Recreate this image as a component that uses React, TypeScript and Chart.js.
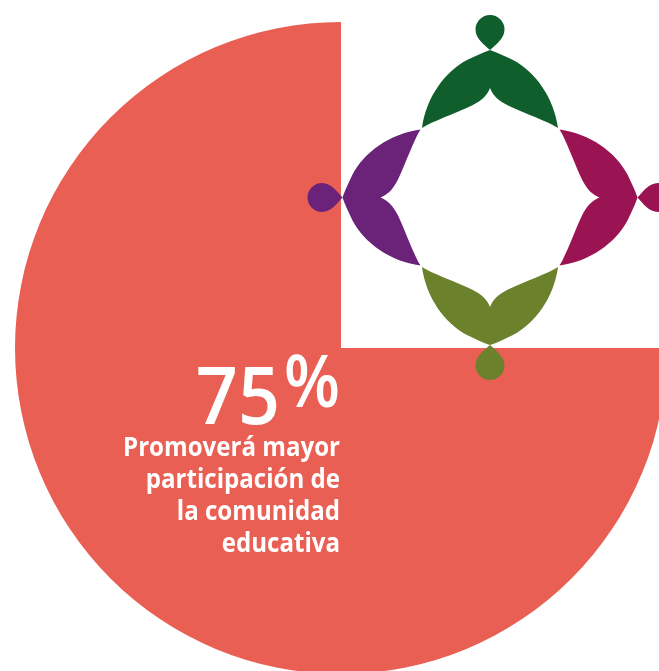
import React, { useEffect, useRef } from "react";
import { Chart, registerables } from "chart.js";

Chart.register(...registerables);

// ---- data ----
const categories = ["Promoverá mayor participación de la comunidad educativa", "Otros"];
const values = [75, 25];
const percentNumber = "75";
const percentSign = "%";
const descriptionLines = ["Promoverá mayor", "participación de", "la comunidad", "educativa"];

// ---- styles ----
const RED = "#EA5F53";
const FIGURE_COLORS = { top: "#115E2D", left: "#6A2379", right: "#9A1352", bottom: "#6B812C" };
const FONT = '"Open Sans", "Noto Sans", sans-serif';

function drawFigure(ctx: CanvasRenderingContext2D, color: string) {
  ctx.fillStyle = color;
  ctx.beginPath();
  ctx.moveTo(0, -147.5);
  ctx.bezierCurveTo(-8, -145, -15, -141, -23, -137.5);
  ctx.bezierCurveTo(-45, -126, -64, -100, -68, -69.5);
  ctx.bezierCurveTo(-58, -76, -35, -84, -18, -92);
  ctx.bezierCurveTo(-8, -97, -3, -102, 0, -109.5);
  ctx.bezierCurveTo(3, -102, 8, -97, 18, -92);
  ctx.bezierCurveTo(35, -84, 58, -76, 68, -69.5);
  ctx.bezierCurveTo(64, -100, 45, -126, 23, -137.5);
  ctx.bezierCurveTo(15, -141, 8, -145, 0, -147.5);
  ctx.closePath();
  ctx.fill();
  // head (teardrop)
  ctx.beginPath();
  ctx.arc(0, -168, 14.5, Math.PI, 0, false);
  ctx.bezierCurveTo(14.5, -159, 6, -153, 0, -147.5);
  ctx.bezierCurveTo(-6, -153, -14.5, -159, -14.5, -168);
  ctx.closePath();
  ctx.fill();
}

const logoPlugin = {
  id: "logo",
  afterDatasetsDraw(chart: any) {
    const ctx = chart.ctx as CanvasRenderingContext2D;
    const cx = 490;
    const cy = 197.5;
    const items: [number, string][] = [
      [0, FIGURE_COLORS.top],
      [-Math.PI / 2, FIGURE_COLORS.left],
      [Math.PI / 2, FIGURE_COLORS.right],
      [Math.PI, FIGURE_COLORS.bottom],
    ];
    items.forEach(([ang, col]) => {
      ctx.save();
      ctx.translate(cx, cy);
      ctx.rotate(ang);
      drawFigure(ctx, col);
      ctx.restore();
    });
  },
};

function scaledText(ctx: CanvasRenderingContext2D, text: string, x: number, y: number, sx: number) {
  ctx.save();
  ctx.translate(x, y);
  ctx.scale(sx, 1);
  ctx.fillText(text, 0, 0);
  ctx.restore();
}

const textPlugin = {
  id: "centerText",
  afterDatasetsDraw(chart: any) {
    const ctx = chart.ctx as CanvasRenderingContext2D;
    const meta = chart.getDatasetMeta(0);
    const arc = meta.data[0];
    const x = arc.x - 1;
    const y = arc.y;
    ctx.save();
    ctx.fillStyle = "#ffffff";
    ctx.textAlign = "right";
    ctx.textBaseline = "alphabetic";
    // percent sign
    ctx.font = `600 72px ${FONT}`;
    const pScale = 0.9;
    const pw = ctx.measureText(percentSign).width * pScale;
    scaledText(ctx, percentSign, x, y + 59, pScale);
    // number
    ctx.font = `600 80px ${FONT}`;
    scaledText(ctx, percentNumber, x - pw - 4, y + 76, 0.92);
    // description
    ctx.font = `700 26px ${FONT}`;
    const target = 217;
    const dScale = target / ctx.measureText(descriptionLines[0]).width;
    descriptionLines.forEach((line, i) => {
      scaledText(ctx, line, x, y + 108 + i * 32, dScale);
    });
    ctx.restore();
  },
};

export default function App() {
  const ref = useRef<HTMLCanvasElement>(null);
  useEffect(() => {
    if (!ref.current) return;
    const chart = new Chart(ref.current, {
      type: "pie",
      data: {
        labels: categories,
        datasets: [
          {
            data: values,
            backgroundColor: [RED, "rgba(0,0,0,0)"],
            borderWidth: 0,
            offset: 0,
            hoverOffset: 0,
          },
        ],
      },
      options: {
        responsive: false,
        animation: false,
        rotation: 90,
        layout: { padding: 15 },
        events: [],
        plugins: { legend: { display: false }, tooltip: { enabled: false } },
      },
      plugins: [logoPlugin, textPlugin],
    } as any);
    return () => chart.destroy();
  }, []);
  return (
    <div
      style={{
        position: "fixed",
        left: 0,
        top: 0,
        width: 659,
        height: 671,
        overflow: "hidden",
        background: "#ffffff",
      }}
    >
      <canvas ref={ref} width={682} height={696} style={{ display: "block" }} />
    </div>
  );
}
